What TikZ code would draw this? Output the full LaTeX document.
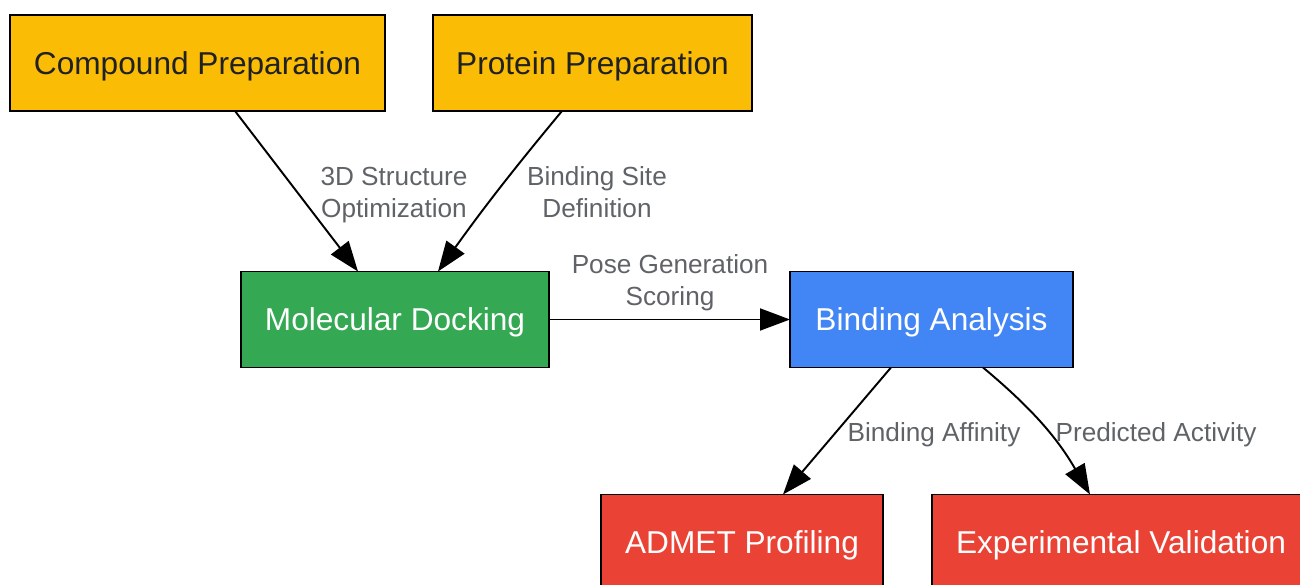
\documentclass[tikz,border=0pt]{standalone}
\usepackage{fontspec}
\setmainfont{Liberation Sans}
\usetikzlibrary{arrows.meta}
\definecolor{prepyellow}{HTML}{FBBC05}
\definecolor{dockgreen}{HTML}{34A853}
\definecolor{bindblue}{HTML}{4285F4}
\definecolor{outred}{HTML}{EA4335}
\definecolor{darktext}{HTML}{202124}
\definecolor{notegray}{HTML}{5F6368}
\begin{document}
\begin{tikzpicture}[stage/.style = {rectangle,draw=black,line width=1.1pt,minimum height=1.92cm,text depth=0pt,outer sep=0mm,font=\fontsize{18}{21.6}\selectfont},
  note/.style = {text=notegray,align=center,font=\fontsize{14.9}{18.2}\selectfont},
  flow/.style = {draw=black,line width=1.1pt,-{Triangle[length=0.6cm,width=0.44cm]}}]
\useasboundingbox (0,0) rectangle (26,11.7);
\node[stage,fill=prepyellow,text=darktext,minimum width=7.5cm] (cpd) at (3.95,10.44) {Compound Preparation};
\node[stage,fill=prepyellow,text=darktext,minimum width=6.38cm] (prot) at (11.85,10.44) {Protein Preparation};
\node[stage,fill=dockgreen,text=white,minimum width=6.16cm] (dock) at (7.9,5.31) {Molecular Docking};
\node[stage,fill=bindblue,text=white,minimum width=5.66cm] (bind) at (18.63,5.31) {Binding Analysis};
\node[stage,fill=outred,text=white,minimum width=5.64cm] (admet) at (14.84,0.85) {ADMET Profiling};
\node[stage,fill=outred,text=white,minimum width=7.56cm] (expt) at (22.42,0.85) {Experimental Validation};
    \draw[flow] ([xshift=0.75cm]cpd.south) -- ([xshift=-0.74cm]dock.north);
    \draw[flow] ([xshift=-0.61cm]prot.south) to[bend right=2] ([xshift=0.86cm]dock.north);
    \draw[flow] (dock.east) -- (bind.west);
    \draw[flow] ([xshift=-0.81cm]bind.south) -- ([xshift=0.82cm]admet.north);
    \draw[flow] ([xshift=1.03cm]bind.south) to[bend left=10] ([xshift=-0.62cm]expt.north);
\node[note] (n1) at (7.88,7.8) {3D Structure\\Optimization};
\node[note] (n2) at (11.94,7.86) {Binding Site\\Definition};
\node[note] (n3) at (13.4,6.04) {Pose Generation\\Scoring};
\node[note] (n4) at (18.68,3.0) {Binding Affinity};
\node[note] (n5) at (23.12,3.0) {Predicted Activity};
\end{tikzpicture}
\end{document}
